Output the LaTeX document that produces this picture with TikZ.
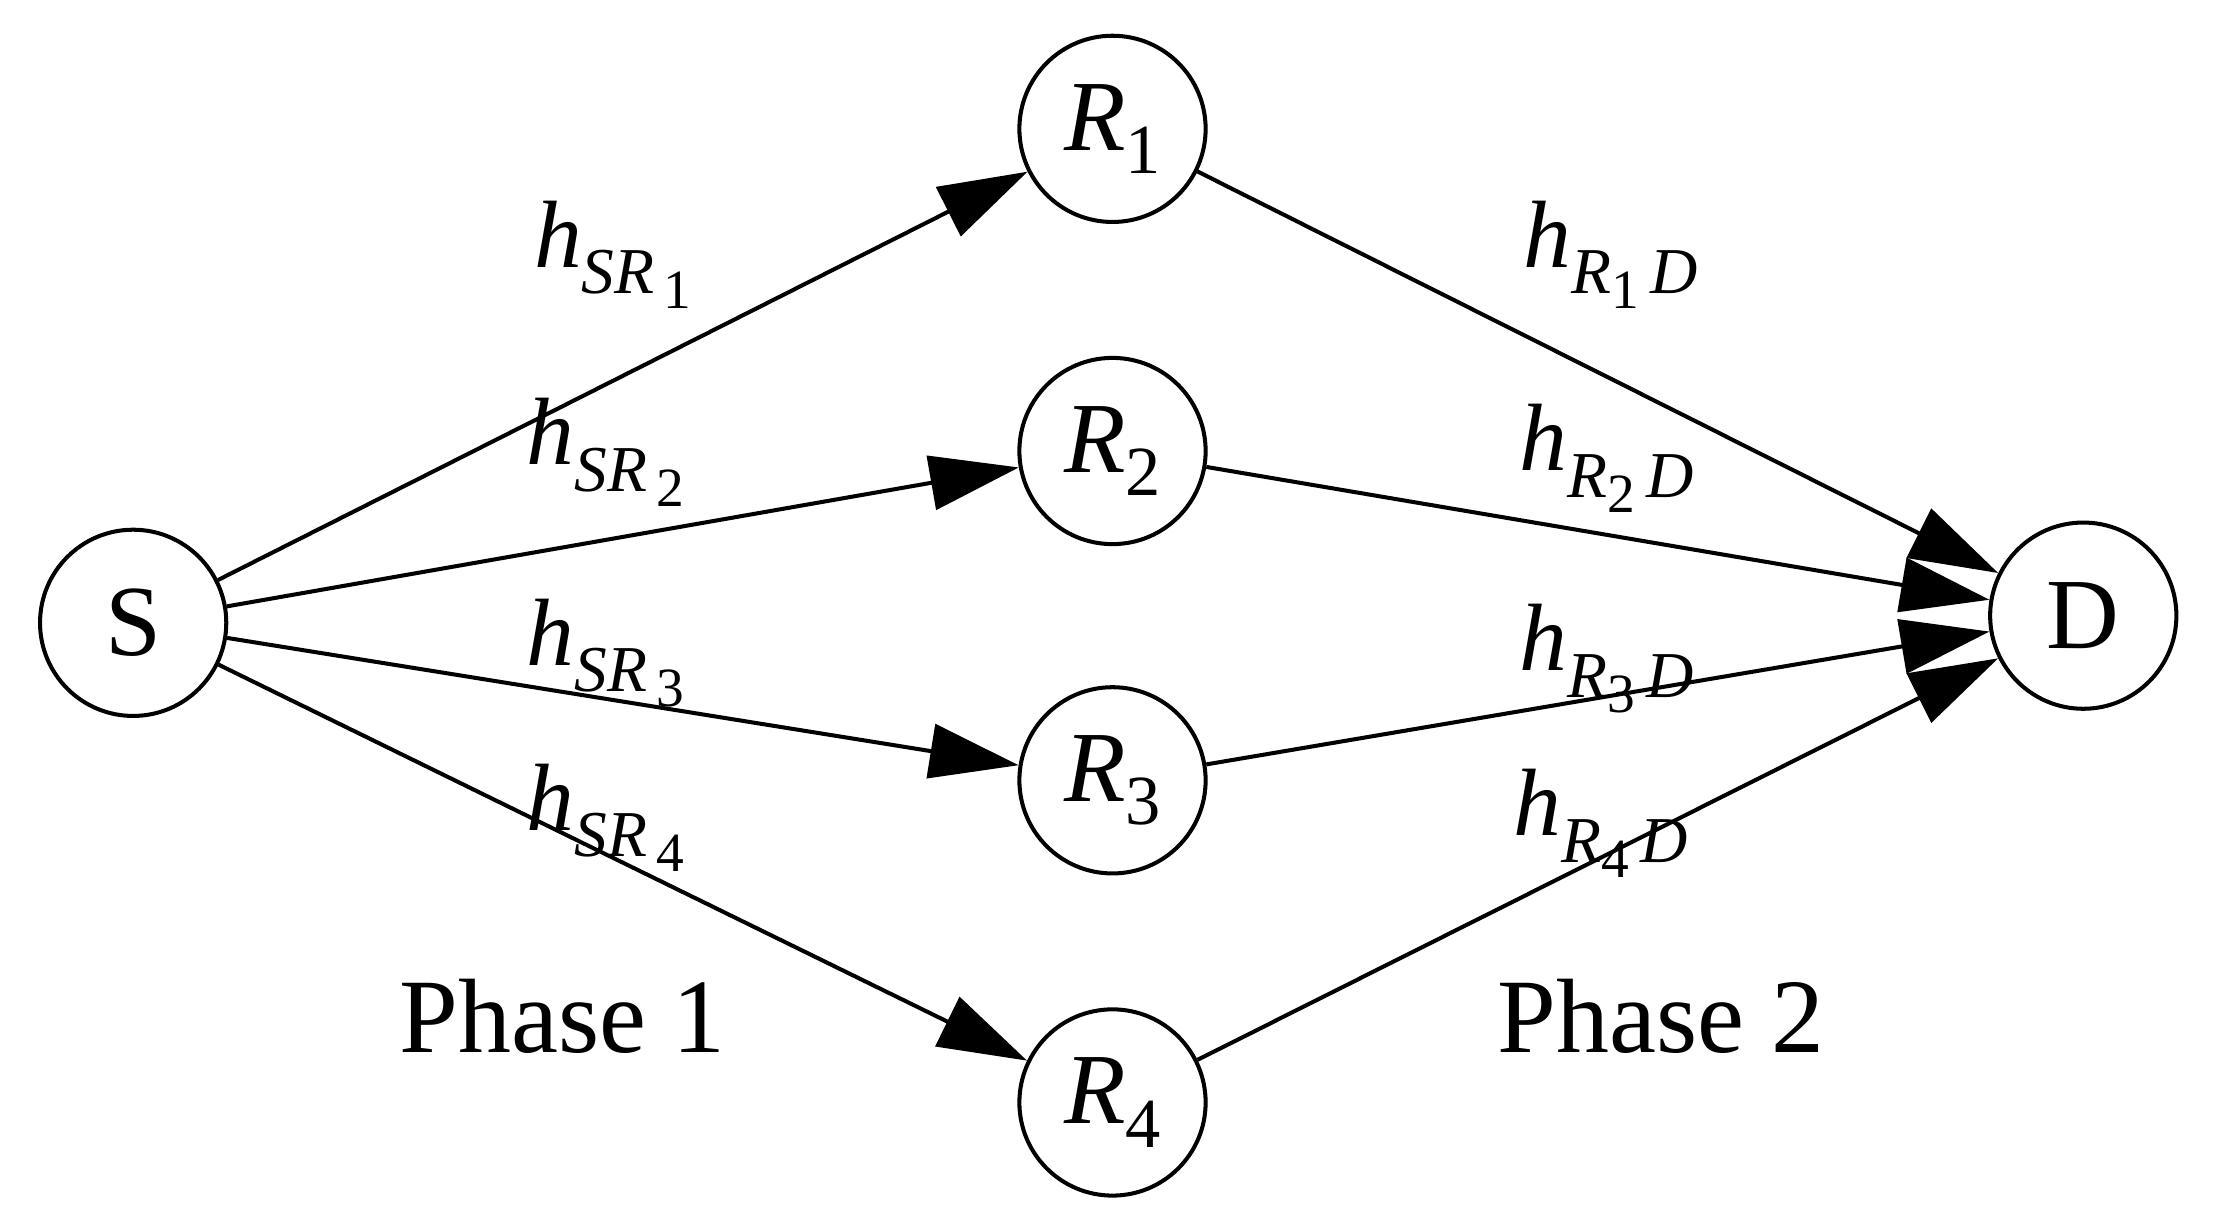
\documentclass[tikz,border=0pt]{standalone}
\usepackage{fontspec}
\setmainfont{Liberation Serif}
\usetikzlibrary{arrows.meta}
\newcommand{\hSR}[1]{\textit{h}\raisebox{-0.6ex}{\fontsize{13}{13}\selectfont\textit{SR}\raisebox{-0.5ex}{\fontsize{11}{11}\selectfont\,#1}}}
\newcommand{\hRD}[1]{\textit{h}\raisebox{-0.6ex}{\fontsize{13}{13}\selectfont\textit{R}\raisebox{-0.5ex}{\fontsize{11}{11}\selectfont #1}\,\textit{D}}}
\newcommand{\Rn}[1]{\textit{R}\raisebox{-0.5ex}{\fontsize{14}{14}\selectfont #1}}
\begin{document}
\begin{tikzpicture}[x=0.01cm,y=-0.01cm,
  nd/.style={circle,draw,line width=0.8pt,minimum size=1.3cm,inner sep=0pt,font=\fontsize{20}{20}\selectfont},
  ar/.style={line width=0.8pt,-{Triangle[length=0.62cm,width=0.38cm]}},
  lb/.style={font=\fontsize{19}{19}\selectfont},
  ph/.style={font=\fontsize{21}{21}\selectfont}]
\useasboundingbox (0,0) rectangle (1547,843);
\node[nd] (S) at (93,435) {S};
\node[nd] (R1) at (777,90) {\Rn{1}};
\node[nd] (R2) at (777,315) {\Rn{2}};
\node[nd] (R3) at (777,545) {\Rn{3}};
\node[nd] (R4) at (777,770) {\Rn{4}};
\node[nd] (D) at (1455,430) {D};
\foreach \i in {1,2,3,4}{
  \draw[ar] (S) -- (R\i);
  \draw[ar] (R\i) -- (D);
}
\node[lb] (l1) at (428,178) {\hSR{1}};
\node[lb] (l2) at (423,316) {\hSR{2}};
\node[lb] (l3) at (423,456) {\hSR{3}};
\node[lb] (l4) at (423,571) {\hSR{4}};
\node[lb] (m1) at (1125,178) {\hRD{1}};
\node[lb] (m2) at (1122,320) {\hRD{2}};
\node[lb] (m3) at (1122,460) {\hRD{3}};
\node[lb] (m4) at (1118,575) {\hRD{4}};
\node[ph] (p1) at (393,710) {Phase 1};
\node[ph] (p2) at (1160,710) {Phase 2};
\end{tikzpicture}
\end{document}
